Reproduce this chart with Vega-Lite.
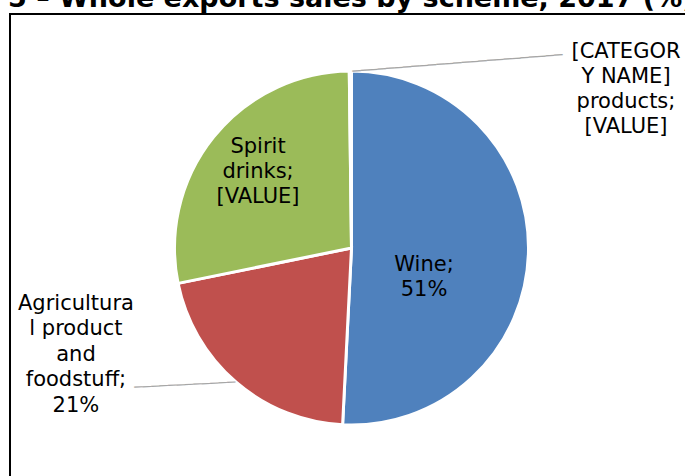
{
  "$schema": "https://vega.github.io/schema/vega-lite/v6.json",
  "width": 683,
  "height": 468,
  "autosize": {"type": "none"},
  "padding": {"left": 10, "top": 14, "right": 0, "bottom": 0},
  "background": "white",
  "view": {"stroke": "black", "strokeWidth": 2},
  "config": {"view": {"stroke": "black", "strokeWidth": 2}},
  "title": {
    "text": "5 – Whole exports sales by scheme, 2017 (%)",
    "anchor": "start",
    "frame": "group",
    "font": "DejaVu Sans",
    "fontSize": 27,
    "fontWeight": "bold",
    "color": "black",
    "baseline": "alphabetic",
    "offset": 0,
    "dx": -2,
    "dy": 20
  },
  "data": {
    "values": [
      {"category": "Wine", "value": 50.8, "order": 1, "label": "Wine;\n51%"},
      {"category": "Agricultural product and foodstuff", "value": 21, "order": 2, "label": "Agricultura\nl product\nand\nfoodstuff;\n21%"},
      {"category": "Spirit drinks", "value": 28, "order": 3, "label": "Spirit\ndrinks;\n[VALUE]"},
      {"category": "[CATEGORY NAME] products", "value": 0.2, "order": 4, "label": "[CATEGOR\nY NAME]\nproducts;\n[VALUE]"}
    ]
  },
  "layer": [
    {
      "mark": {"type": "arc", "outerRadius": 177, "stroke": "white", "strokeWidth": 3},
      "encoding": {
        "theta": {"field": "value", "type": "quantitative", "stack": true},
        "order": {"field": "order", "type": "quantitative", "sort": "ascending"},
        "color": {
          "field": "category",
          "type": "nominal",
          "legend": null,
          "scale": {
            "domain": ["Wine", "Agricultural product and foodstuff", "Spirit drinks", "[CATEGORY NAME] products"],
            "range": ["#4F81BD", "#C0504D", "#9BBB59", "#8064A2"]
          }
        }
      }
    },
    {
      "transform": [
        {"stack": "value", "groupby": [], "sort": [{"field": "order", "order": "ascending"}], "as": ["t0", "t1"]}
      ],
      "layer": [
        {
          "transform": [{"filter": "datum.category === 'Wine'"}],
          "mark": {"type": "text", "radius": 80, "dx": 72.5, "dy": 96.5, "font": "DejaVu Sans", "fontSize": 21, "lineHeight": 25.5, "lineBreak": "\n", "color": "black", "align": "center", "baseline": "middle"},
          "encoding": {"theta": {"field": "t0", "type": "quantitative", "stack": null}, "text": {"field": "label"}}
        },
        {
          "transform": [{"filter": "datum.category === 'Agricultural product and foodstuff'"}],
          "mark": {"type": "text", "radius": 176, "dx": -266.7, "dy": -119.8, "font": "DejaVu Sans", "fontSize": 21, "lineHeight": 25.5, "lineBreak": "\n", "color": "black", "align": "center", "baseline": "middle"},
          "encoding": {"theta": {"field": "t0", "type": "quantitative", "stack": null}, "text": {"field": "label"}}
        },
        {
          "transform": [{"filter": "datum.category === 'Spirit drinks'"}],
          "mark": {"type": "text", "radius": 120, "dx": 24.1, "dy": -125, "font": "DejaVu Sans", "fontSize": 21, "lineHeight": 25, "lineBreak": "\n", "color": "black", "align": "center", "baseline": "middle"},
          "encoding": {"theta": {"field": "t0", "type": "quantitative", "stack": null}, "text": {"field": "label"}}
        },
        {
          "transform": [{"filter": "datum.category === '[CATEGORY NAME] products'"}],
          "mark": {"type": "text", "radius": 176, "dx": 276.7, "dy": -20.5, "font": "DejaVu Sans", "fontSize": 21, "lineHeight": 25, "lineBreak": "\n", "color": "black", "align": "center", "baseline": "middle"},
          "encoding": {"theta": {"field": "t0", "type": "quantitative", "stack": null}, "text": {"field": "label"}}
        },
        {
          "transform": [{"filter": "datum.category === 'Agricultural product and foodstuff'"}],
          "mark": {"type": "text", "radius": 176, "angle": -2.9, "dx": -155.6, "dy": -46.2, "font": "DejaVu Sans Mono", "fontSize": 14, "color": "#A6A6A6", "align": "center", "baseline": "middle", "text": "────────────"},
          "encoding": {"theta": {"field": "t0", "type": "quantitative", "stack": null}}
        },
        {
          "transform": [{"filter": "datum.category === '[CATEGORY NAME] products'"}],
          "mark": {"type": "text", "radius": 176, "angle": -4.5, "dx": 108.5, "dy": 0.2, "font": "DejaVu Sans Mono", "fontSize": 14, "color": "#A6A6A6", "align": "center", "baseline": "middle", "text": "─────────────────────────"},
          "encoding": {"theta": {"field": "t0", "type": "quantitative", "stack": null}}
        }
      ]
    }
  ]
}
